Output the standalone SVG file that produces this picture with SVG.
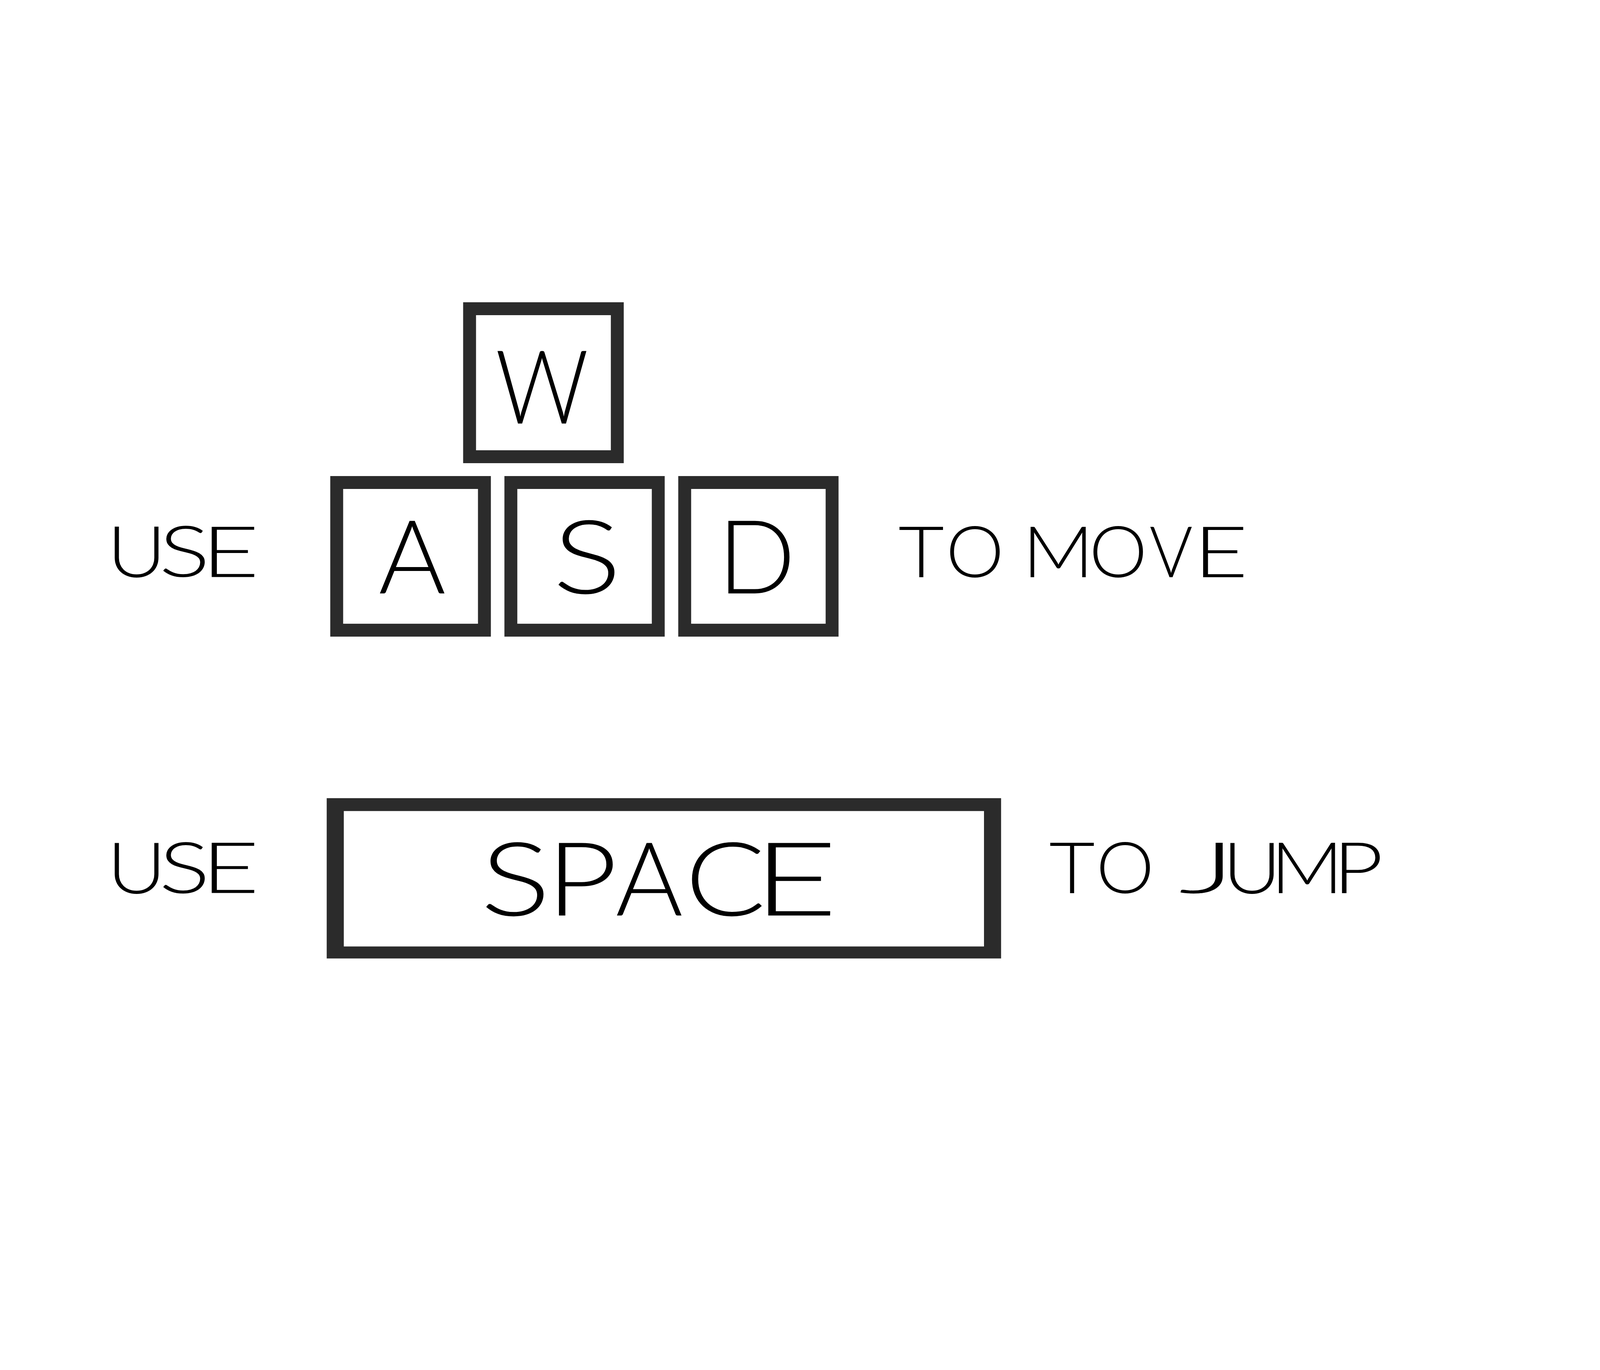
<svg xmlns="http://www.w3.org/2000/svg" width="4961" height="3508" viewBox="0 0 4961 3508">
<style>
svg{width:100%;height:100%}
.key{fill:none;stroke:#2b2b2b;stroke-width:40}
.frame{fill:#2b2b2b;fill-rule:evenodd}
.t{font-family:Lato,"Liberation Sans",sans-serif;font-weight:300;fill:#000;text-anchor:middle}
.s1{font-size:220px}
.s2{font-size:318px}
</style>
<rect x="0" y="0" width="4961" height="3508" fill="#fff"/>
<g id="connectors"/>
<g id="label-use-move">
<text class="t s1" y="1419"><tspan x="423.5" textLength="184" lengthAdjust="spacingAndGlyphs">U</tspan><tspan x="572" textLength="158" lengthAdjust="spacingAndGlyphs">S</tspan><tspan x="714" textLength="180" lengthAdjust="spacingAndGlyphs">E</tspan></text>
</g>
<g id="key-w">
<rect class="key" x="1456" y="587" width="458" height="459"/>
<text class="t s2" y="943"><tspan x="1680.5" textLength="289" lengthAdjust="spacingAndGlyphs">W</tspan></text>
</g>
<g id="key-a">
<rect class="key" x="1044" y="1126" width="458" height="458"/>
<text class="t s2" x="1278" y="1470">A</text>
</g>
<g id="key-s">
<rect class="key" x="1584" y="1126" width="457" height="458"/>
<text class="t s2" y="1470"><tspan x="1820.5" textLength="213" lengthAdjust="spacingAndGlyphs">S</tspan></text>
</g>
<g id="key-d">
<rect class="key" x="2123" y="1126" width="457" height="458"/>
<text class="t s2" x="2346" y="1470">D</text>
</g>
<g id="label-to-move">
<text class="t s1" y="1420"><tspan x="2856.5" textLength="142" lengthAdjust="spacingAndGlyphs">T</tspan><tspan x="3023" textLength="180" lengthAdjust="spacingAndGlyphs">O</tspan><tspan x="3150"> </tspan><tspan x="3281" textLength="222" lengthAdjust="spacingAndGlyphs">M</tspan><tspan x="3467" textLength="180" lengthAdjust="spacingAndGlyphs">O</tspan><tspan x="3631" textLength="134" lengthAdjust="spacingAndGlyphs">V</tspan><tspan x="3785" textLength="170" lengthAdjust="spacingAndGlyphs">E</tspan></text>
</g>
<g id="label-use-jump">
<text class="t s1" y="2399"><tspan x="423.5" textLength="184" lengthAdjust="spacingAndGlyphs">U</tspan><tspan x="572" textLength="158" lengthAdjust="spacingAndGlyphs">S</tspan><tspan x="714" textLength="180" lengthAdjust="spacingAndGlyphs">E</tspan></text>
</g>
<g id="key-space">
<path class="frame" d="M1013,2105 H3104 V2602 H1013 Z M1066,2145 V2565 H3051 V2145 Z"/>
<text class="t s2" y="2469"><tspan x="1598.5" textLength="218" lengthAdjust="spacingAndGlyphs">S</tspan><tspan x="1804" textLength="222" lengthAdjust="spacingAndGlyphs">P</tspan><tspan x="2013">A</tspan><tspan x="2249" textLength="250" lengthAdjust="spacingAndGlyphs">C</tspan><tspan x="2466" textLength="262" lengthAdjust="spacingAndGlyphs">E</tspan></text>
</g>
<g id="label-to-jump">
<text class="t s1" y="2399"><tspan x="3324" textLength="142" lengthAdjust="spacingAndGlyphs">T</tspan><tspan x="3488.5" textLength="180" lengthAdjust="spacingAndGlyphs">O</tspan><tspan x="3617"> </tspan><tspan x="3744" textLength="178" lengthAdjust="spacingAndGlyphs">J</tspan><tspan x="3882" textLength="182" lengthAdjust="spacingAndGlyphs">U</tspan><tspan x="4052.5" textLength="226" lengthAdjust="spacingAndGlyphs">M</tspan><tspan x="4211" textLength="156" lengthAdjust="spacingAndGlyphs">P</tspan></text>
</g>
</svg>
